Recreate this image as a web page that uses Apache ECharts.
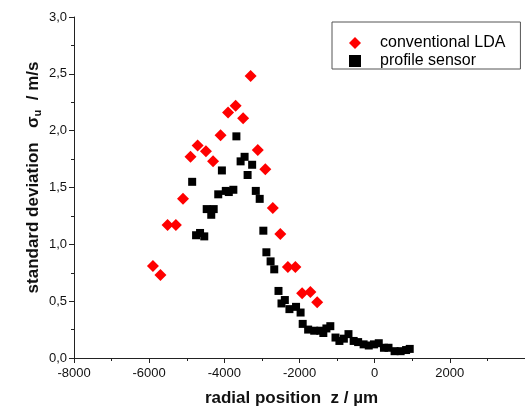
<!DOCTYPE html>
<html>
<head>
<meta charset="utf-8">
<script src="https://cdn.jsdelivr.net/npm/echarts@6/dist/echarts.min.js"></script>
<style>
  html, body { margin: 0; padding: 0; background: #fff; }
  #chart { width: 525px; height: 412px; }
</style>
</head>
<body>
<div id="chart"></div>
<script>
// conventional LDA (red diamonds), radial position in µm
const ldaZ = [-5900, -5700, -5510, -5290, -5100, -4900, -4710, -4490, -4300, -4100,
    -3900, -3700, -3500, -3300, -3110, -2910, -2710, -2510, -2310, -2110,
    -1930, -1710, -1530];
const ldaSigma = [0.81, 0.73, 1.17, 1.17, 1.40, 1.77, 1.87, 1.82, 1.73, 1.96,
    2.16, 2.22, 2.11, 2.48, 1.83, 1.66, 1.32, 1.09, 0.80, 0.80,
    0.57, 0.58, 0.49];

// profile sensor (black squares)
const sensorZ = [-4856, -4752, -4646, -4534, -4469, -4348, -4283, -4162, -4065, -3961,
    -3881, -3760, -3679, -3567, -3461, -3381, -3260, -3163, -3059, -2962,
    -2881, -2769, -2672, -2559, -2479, -2390, -2268, -2092, -1971, -1915,
    -1770, -1609, -1446, -1366, -1284, -1180, -1042, -938, -820, -697,
    -559, -440, -294, -157, -19, 109, 247, 368, 530, 691, 836, 933];
const sensorSigma = [1.55, 1.08, 1.10, 1.07, 1.31, 1.26, 1.31, 1.44, 1.65, 1.47,
    1.46, 1.48, 1.95, 1.73, 1.77, 1.61, 1.70, 1.47, 1.40, 1.12,
    0.93, 0.85, 0.78, 0.59, 0.48, 0.51, 0.43, 0.45, 0.40, 0.30,
    0.25, 0.24, 0.24, 0.22, 0.26, 0.28, 0.18, 0.15, 0.17, 0.21,
    0.15, 0.14, 0.12, 0.11, 0.12, 0.13, 0.09, 0.09, 0.06, 0.06, 0.07, 0.08];

const legendNames = ['conventional LDA', 'profile sensor'];

const font = 'Liberation Sans, Arial, sans-serif';

function pairs(xs, ys) {
    return xs.map(function (x, i) { return [x, ys[i]]; });
}

const chart = echarts.init(document.getElementById('chart'), null, { renderer: 'canvas' });

const option = {
    backgroundColor: '#fff',
    animation: false,
    textStyle: { fontFamily: font },
    grid: { left: 74, top: 17, bottom: 51, right: -45 },
    legend: {
        orient: 'vertical',
        left: 332,
        top: 22,
        padding: [13, 15, 0, 17],
        itemGap: 2,
        itemWidth: 12,
        itemHeight: 12,
        borderColor: '#555',
        borderWidth: 1,
        borderRadius: 0,
        textStyle: { fontSize: 16, color: '#000', fontFamily: font, padding: [0, 0, 0, 14], lineHeight: 16 },
        data: [
            { name: legendNames[0], icon: 'diamond' },
            { name: legendNames[1], icon: 'rect', itemStyle: { color: '#000' } }
        ]
    },
    xAxis: {
        type: 'value',
        min: -8000,
        max: 4000,
        interval: 2000,
        splitLine: { show: false },
        axisLine: { onZero: false, lineStyle: { color: '#222', width: 1 } },
        axisTick: { length: 5, lineStyle: { color: '#222' } },
        minorTick: { show: true, splitNumber: 2, length: 3, lineStyle: { color: '#222' } },
        axisLabel: {
            fontSize: 13, color: '#111', margin: 9, fontFamily: font, showMaxLabel: false,
            formatter: function (v) { return String(v); }
        },
        name: 'radial position  z / µm',
        nameLocation: 'middle',
        nameGap: 32,
        nameMoveOverlap: false,
        nameTextStyle: { fontSize: 17, fontWeight: 'bold', color: '#111', fontFamily: font, padding: [0, 16, 0, 0] }
    },
    yAxis: {
        type: 'value',
        min: 0,
        max: 3,
        interval: 0.5,
        splitLine: { show: false },
        axisLine: { onZero: false, lineStyle: { color: '#222', width: 1 } },
        axisTick: { length: 5, lineStyle: { color: '#222' } },
        minorTick: { show: true, splitNumber: 2, length: 3, lineStyle: { color: '#222' } },
        axisLabel: {
            fontSize: 13, color: '#111', margin: 7, fontFamily: font,
            formatter: function (v) { return v.toFixed(1).replace('.', ','); }
        },
        name: 'standard deviation   σ{sub|u}  / m/s',
        nameLocation: 'middle',
        nameGap: 31,
        nameMoveOverlap: false,
        nameTextStyle: {
            fontSize: 17, fontWeight: 'bold', color: '#111', fontFamily: font,
            lineHeight: 20,
            padding: [0, 0, 0, 20],
            rich: {
                sub: { fontSize: 11, fontWeight: 'bold', color: '#111', fontFamily: font, lineHeight: 12, verticalAlign: 'bottom' }
            }
        }
    },
    series: [
        {
            name: legendNames[0],
            type: 'scatter',
            symbol: 'diamond',
            symbolSize: 12,
            itemStyle: { color: '#ff0000', opacity: 1 },
            data: pairs(ldaZ, ldaSigma),
            z: 2
        },
        {
            name: legendNames[1],
            type: 'scatter',
            symbol: 'rect',
            symbolSize: 8,
            itemStyle: { color: '#000', opacity: 1 },
            data: pairs(sensorZ, sensorSigma),
            z: 3
        }
    ]
};

chart.setOption(option);
</script>
</body>
</html>
